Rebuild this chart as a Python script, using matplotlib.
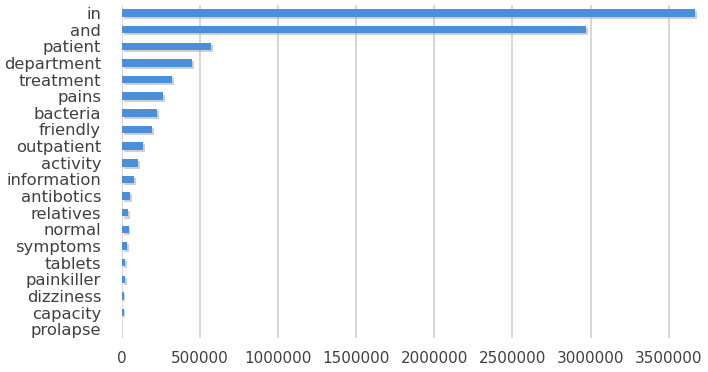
import matplotlib
matplotlib.use("Agg")
import matplotlib.pyplot as plt
import matplotlib.patheffects as pe

categories = ["in", "and", "patient", "department", "treatment", "pains", "bacteria",
              "friendly", "outpatient", "activity", "information", "antibotics",
              "relatives", "normal", "symptoms", "tablets", "painkiller", "dizziness",
              "capacity", "prolapse"]
values = [3670000, 2970000, 570000, 448000, 320000, 262000, 224000, 192000, 134000,
          102000, 77000, 51000, 40000, 43000, 35000, 20000, 20000, 10000, 10000, 2000]
xticks = [0, 500000, 1000000, 1500000, 2000000, 2500000, 3000000, 3500000]

fig = plt.figure(figsize=(7.08, 3.72), dpi=100)
W, H = 708, 372
ax = fig.add_axes([122 / W, 1 - 337.5 / H, (708 - 122) / W, (337.5 - 4.7) / H])

ypos = list(range(len(categories)))
bars = ax.barh(ypos, values, height=0.45, color="#4a8fd8", zorder=3)
for b in bars:
    b.set_path_effects([pe.SimplePatchShadow(offset=(1.2, -1.5), shadow_rgbFace="#a0a0a0", alpha=0.5),
                        pe.Normal()])

ax.set_ylim(len(categories) - 0.5, -0.5)
ax.set_xlim(0, 3752000)
ax.set_yticks(ypos)
ax.set_yticklabels(categories, fontsize=11.8, color="#404040")
ax.set_xticks(xticks)
ax.set_xticklabels([str(v) for v in xticks], fontsize=11, color="#404040")
ax.tick_params(axis="both", length=0)
ax.tick_params(axis="y", pad=15)
ax.tick_params(axis="x", pad=10)
ax.grid(axis="x", color="#d0d0d0", linewidth=1.2, zorder=0)
for s in ax.spines.values():
    s.set_visible(False)

fig.savefig("out.png", dpi=100)
